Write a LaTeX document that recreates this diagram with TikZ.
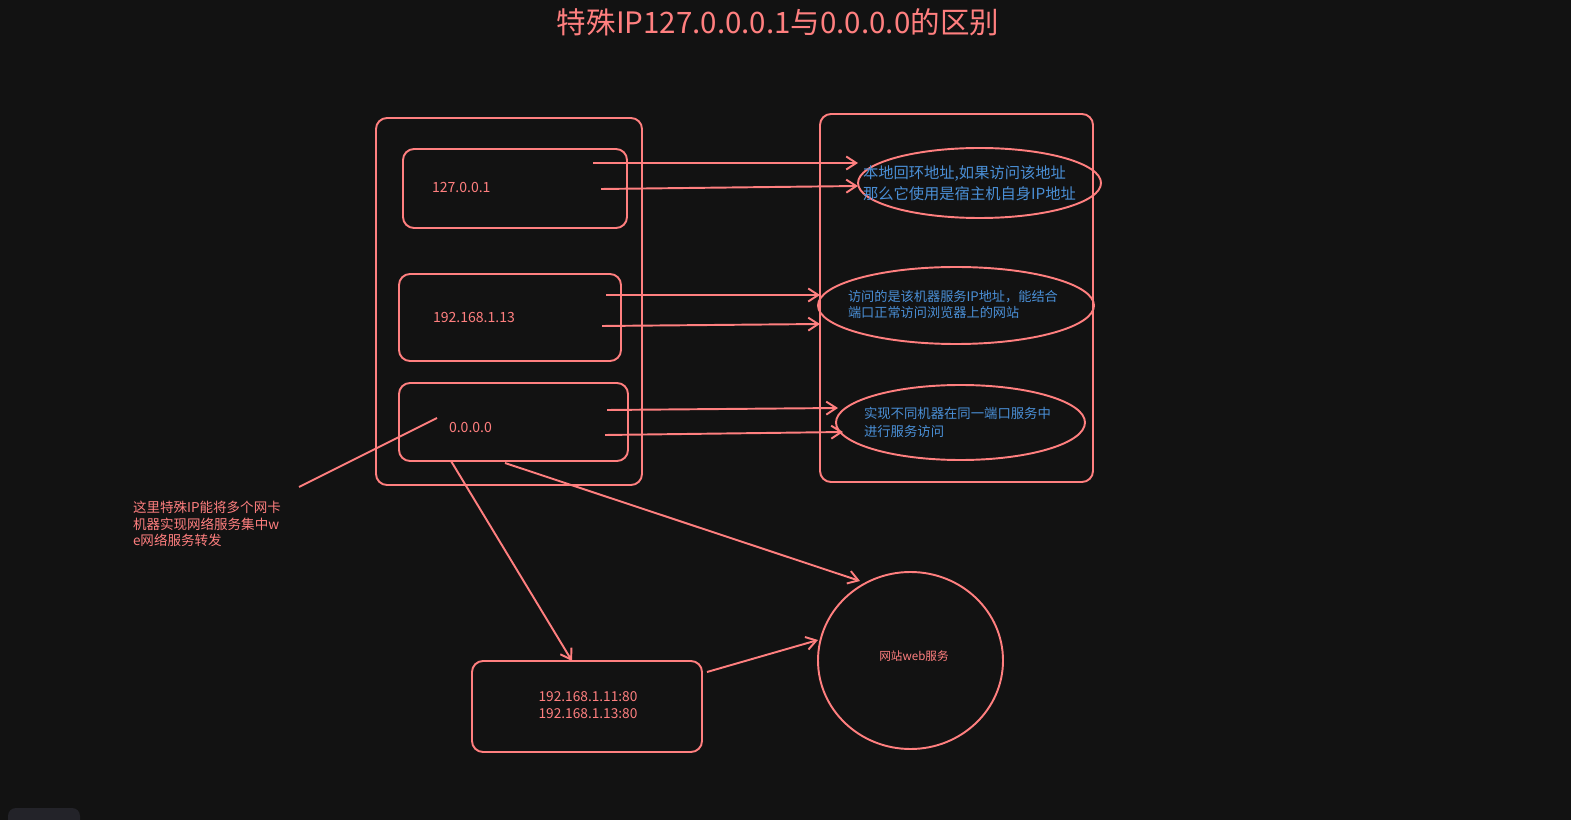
\documentclass[tikz,border=0pt]{standalone}
\usepackage{fontspec}
\setmainfont{Noto Sans CJK SC}
\usetikzlibrary{arrows.meta,shapes.geometric}
\definecolor{bg}{HTML}{121212}
\definecolor{coral}{HTML}{FF7F7F}
\definecolor{skyb}{HTML}{4A8FD6}
\definecolor{uigray}{HTML}{232329}
\begin{document}
\begin{tikzpicture}[x=0.02cm,y=-0.02cm,
  every node/.style={inner sep=0pt, outer sep=0pt},
  rbox/.style={draw=coral, line width=1.1pt, rounded corners=0.22cm},
  oval/.style={ellipse, draw=coral, line width=1.1pt},
  link/.style={draw=coral, line width=1.1pt, -{Straight Barb[length=2mm,width=2.6mm]}},
  plain/.style={draw=coral, line width=1.1pt},
  rtext/.style={text=coral, font=\fontsize{8}{10}\selectfont},
  btext/.style={text=skyb, align=left},
]
\fill[bg] (0,0) rectangle (1571,820);
\useasboundingbox (0,0) rectangle (1571,820);
\fill[uigray, rounded corners=0.16cm] (8,808) rectangle (80,840);

% title
\node[text=coral, font=\fontsize{16.8}{20}\selectfont] (title) at (778,22) {特殊IP127.0.0.0.1与0.0.0.0的区别};

% left group
\node[rbox, minimum width=266*0.02cm, minimum height=367*0.02cm] (left) at (509,301.5) {};
\node[rbox, minimum width=224*0.02cm, minimum height=79*0.02cm] (b1) at (515,188.5) {};
\node[rbox, minimum width=222*0.02cm, minimum height=87*0.02cm] (b2) at (510,317.5) {};
\node[rbox, minimum width=229*0.02cm, minimum height=78*0.02cm] (b3) at (513.5,422) {};
\node[rtext, anchor=west] (t1) at (432,187) {127.0.0.1};
\node[rtext, anchor=west] (t2) at (433,317) {192.168.1.13};
\node[rtext, anchor=west] (t3) at (449,427) {0.0.0.0};

% right group
\node[rbox, minimum width=273*0.02cm, minimum height=368*0.02cm] (right) at (956.5,298) {};
\node[oval, minimum width=243*0.02cm, minimum height=70*0.02cm] (e1) at (979.5,183) {};
\node[oval, minimum width=276*0.02cm, minimum height=77*0.02cm] (e2) at (956,305.5) {};
\node[oval, minimum width=249*0.02cm, minimum height=75*0.02cm] (e3) at (960.5,422.5) {};
\node[btext, anchor=west, font=\fontsize{8.7}{11.9}\selectfont] (et1) at (863,183) {本地回环地址,如果访问该地址\\那么它使用是宿主机自身IP地址};
\node[btext, anchor=west, font=\fontsize{7.5}{9.1}\selectfont] (et2) at (848,304) {访问的是该机器服务IP地址，能结合\\端口正常访问浏览器上的网站};
\node[btext, anchor=west, font=\fontsize{7.6}{10.2}\selectfont] (et3) at (864,422) {实现不同机器在同一端口服务中\\进行服务访问};

% bottom
\node[rbox, minimum width=230*0.02cm, minimum height=91*0.02cm] (bot) at (587,706.5) {};
\node[text=coral, align=center, font=\fontsize{7.8}{9.6}\selectfont] (bt) at (588,705.5) {192.168.1.11:80\\192.168.1.13:80};
\node[ellipse, draw=coral, line width=1.1pt, minimum width=185*0.02cm, minimum height=177*0.02cm] (web) at (910.5,660.5) {};
\node[text=coral, font=\fontsize{6.6}{8}\selectfont] (wt) at (914,656) {网站web服务};

% annotation
\node[text=coral, align=left, anchor=west, font=\fontsize{7.7}{9.4}\selectfont] (note) at (133,524) {这里特殊IP能将多个网卡\\机器实现网络服务集中w\\e网络服务转发};

% coordinates
\coordinate (a1s) at (593,163); \coordinate (a1e) at (858,163);
\coordinate (a2s) at (601,189); \coordinate (a2e) at (858,186);
\coordinate (a3s) at (606,295); \coordinate (a3e) at (820,295);
\coordinate (a4s) at (602,326); \coordinate (a4e) at (820,324);
\coordinate (a5s) at (607,410); \coordinate (a5e) at (838,408);
\coordinate (a6s) at (605,435); \coordinate (a6e) at (843,432);
\coordinate (a7s) at (451,461); \coordinate (a7e) at (572,661);
\coordinate (a8s) at (505,463); \coordinate (a8e) at (860,581);
\coordinate (a9s) at (707,672); \coordinate (a9e) at (818,640);
\coordinate (ns) at (437,418); \coordinate (ne) at (299,487);

\draw[link] (a1s) -- (a1e);
\draw[link] (a2s) -- (a2e);
\draw[link] (a3s) -- (a3e);
\draw[link] (a4s) -- (a4e);
\draw[link] (a5s) -- (a5e);
\draw[link] (a6s) -- (a6e);
\draw[link] (a7s) -- (a7e);
\draw[link] (a8s) -- (a8e);
\draw[link] (a9s) -- (a9e);
\draw[plain] (ns) -- (ne);
\end{tikzpicture}
\end{document}
